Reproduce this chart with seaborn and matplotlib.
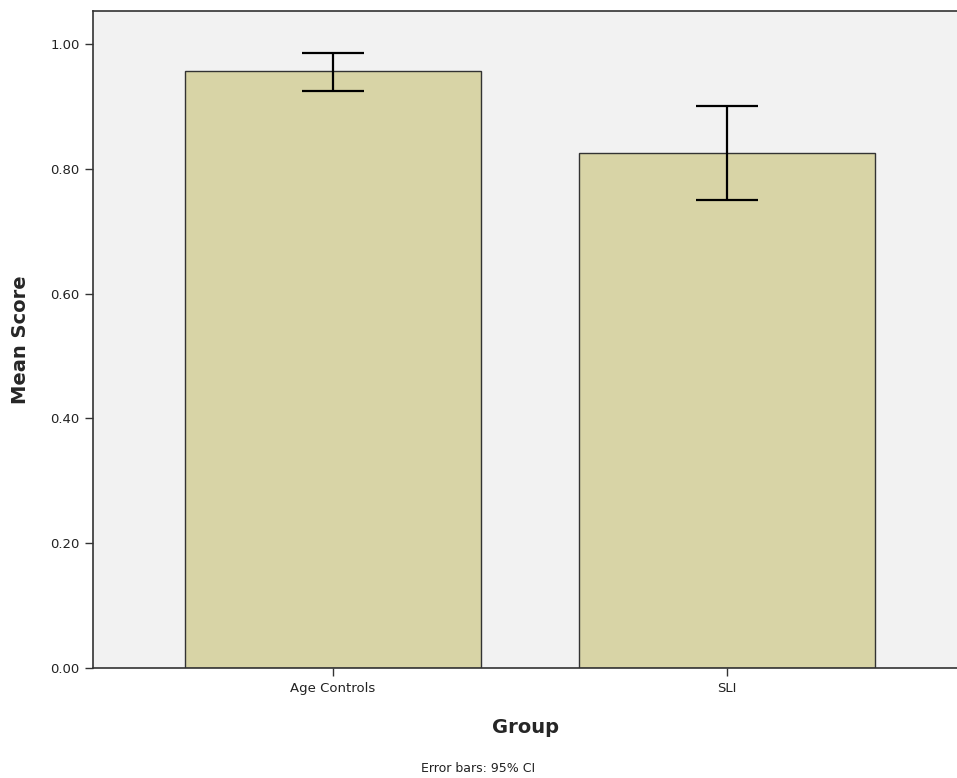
import numpy as np
import pandas as pd
import seaborn as sns
import matplotlib
matplotlib.use("Agg")
import matplotlib.pyplot as plt

# Values
groups = ["Age Controls", "SLI"]
mean_score = [0.957, 0.825]
ci_low = [0.925, 0.750]
ci_high = [0.985, 0.900]

BAR_COLOR = "#D8D4A6"
BG_COLOR = "#F2F2F2"

df = pd.DataFrame({"Group": groups, "Mean Score": mean_score})

sns.set_style("white")
plt.rcParams["font.family"] = ["DejaVu Sans"]

fig = plt.figure(figsize=(9.57, 7.78), dpi=100)
ax = fig.add_axes([0.0972, 0.1414, 0.9028, 0.8445])
ax.set_facecolor(BG_COLOR)

sns.barplot(data=df, x="Group", y="Mean Score", color=BAR_COLOR,
            edgecolor="#333333", linewidth=1.0, width=0.75,
            errorbar=None, saturation=1, ax=ax)

# 95% CI error bars
means = np.array(mean_score)
yerr = np.vstack([means - np.array(ci_low), np.array(ci_high) - means])
ax.errorbar(range(len(groups)), means, yerr=yerr, fmt="none",
            ecolor="black", elinewidth=1.6, capsize=22, capthick=1.6)

ax.set_xlim(-0.609, 1.584)
ax.set_ylim(0, 1.053)
ax.set_yticks([0.0, 0.2, 0.4, 0.6, 0.8, 1.0])
ax.set_yticklabels([f"{v:.2f}" for v in [0.0, 0.2, 0.4, 0.6, 0.8, 1.0]])

for side in ["left", "bottom", "top"]:
    ax.spines[side].set_color("#333333")
    ax.spines[side].set_linewidth(1.2)
ax.spines["right"].set_visible(False)

ax.tick_params(axis="both", which="both", direction="out", length=6,
               width=1, color="#333333", labelsize=9.5, labelcolor="#222222")
ax.tick_params(axis="y", left=True)
ax.tick_params(axis="x", bottom=True, pad=4)

ax.set_xlabel("Group", fontsize=14, fontweight="bold", labelpad=17)
ax.set_ylabel("Mean Score", fontsize=14, fontweight="bold", labelpad=15)

fig.text(0.5, 0.0116, "Error bars: 95% CI", ha="center", va="center",
         fontsize=9, color="#222222")

plt.savefig("out.png", dpi=100)
plt.close()
